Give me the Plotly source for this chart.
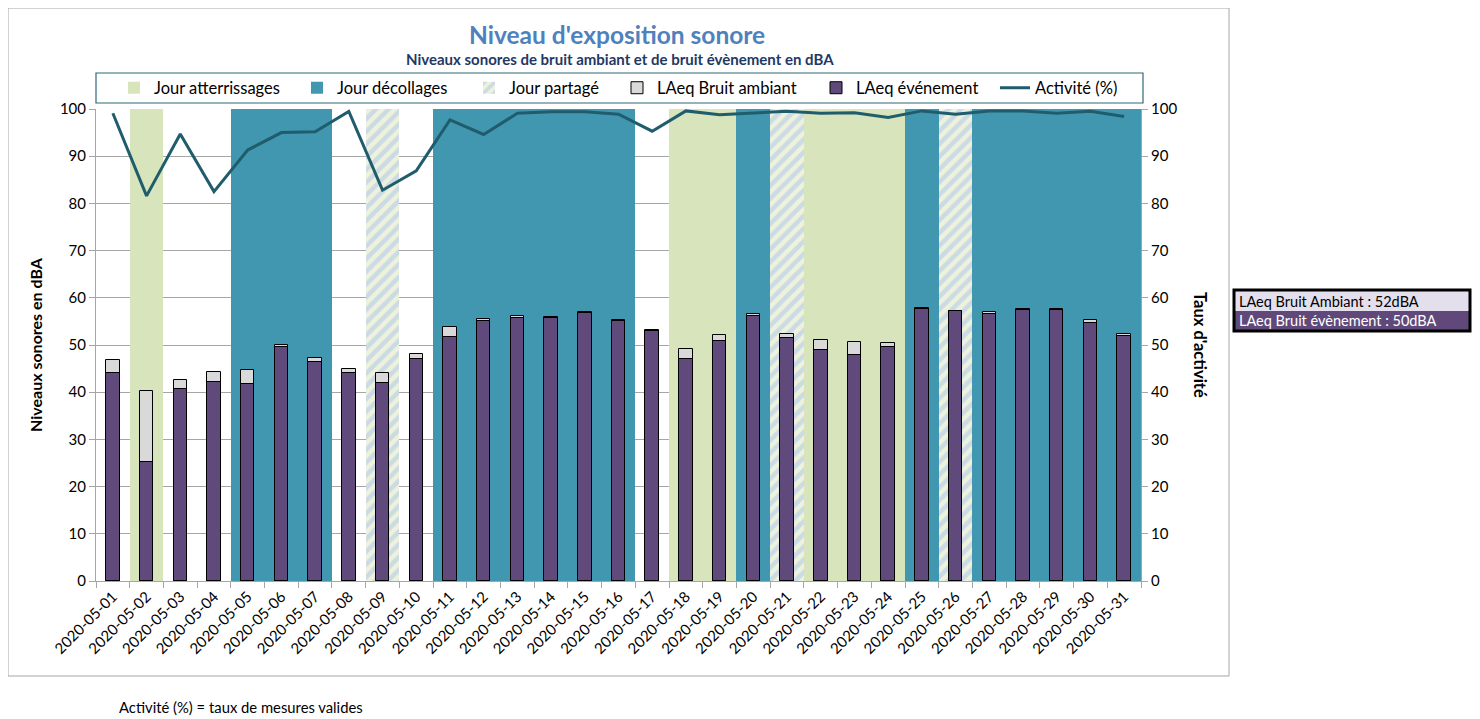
import plotly.graph_objects as go

# ---------------- data ----------------
dates = ["2020-05-01", "2020-05-02", "2020-05-03", "2020-05-04", "2020-05-05", "2020-05-06",
         "2020-05-07", "2020-05-08", "2020-05-09", "2020-05-10", "2020-05-11", "2020-05-12",
         "2020-05-13", "2020-05-14", "2020-05-15", "2020-05-16", "2020-05-17", "2020-05-18",
         "2020-05-19", "2020-05-20", "2020-05-21", "2020-05-22", "2020-05-23", "2020-05-24",
         "2020-05-25", "2020-05-26", "2020-05-27", "2020-05-28", "2020-05-29", "2020-05-30",
         "2020-05-31"]

# N = none, A = atterrissages, D = décollages, P = partagé
day_type = ["N", "A", "N", "N", "D", "D", "D", "N", "P", "N", "D", "D", "D", "D", "D", "D",
            "N", "A", "A", "D", "P", "A", "A", "A", "D", "P", "D", "D", "D", "D", "D"]

laeq_ambiant = [46.8, 40.2, 42.6, 44.2, 44.8, 49.9, 47.3, 44.9, 44.0, 48.2, 53.9, 55.6, 56.2,
                56.0, 56.9, 55.4, 53.2, 49.1, 52.1, 56.5, 52.3, 51.1, 50.7, 50.4, 57.9, 57.3,
                56.9, 57.6, 57.6, 55.2, 52.4]
laeq_evenement = [44.0, 25.3, 40.7, 42.2, 41.7, 49.6, 46.3, 44.1, 41.9, 47.0, 51.8, 55.1, 55.7,
                  55.7, 56.7, 55.1, 52.9, 47.1, 50.8, 56.2, 51.5, 48.9, 47.9, 49.5, 57.7, 57.1,
                  56.6, 57.4, 57.4, 54.7, 52.0]
activite = [99.1, 81.6, 94.7, 82.5, 91.3, 95.0, 95.2, 99.5, 82.8, 86.9, 97.7, 94.6, 99.1, 99.4,
            99.4, 98.9, 95.3, 99.6, 98.8, 99.2, 99.5, 99.1, 99.2, 98.2, 99.6, 98.9, 99.6, 99.6,
            99.1, 99.5, 98.4]

band_top = 100
moyenne_ambiant = 52
moyenne_evenement = 50

# ---------------- layout helpers ----------------
OFF = 8                      # page body margin
W, H = 1480 - 2 * OFF, 719 - OFF
L, R, T, B = 96, 1141, 109, 581   # plot area in page pixels
FONT = "Lato"


def px(x):
    return (x - L) / (R - L)


def py(y):
    return (B - y) / (B - T)


def band(code):
    return [band_top if t == code else None for t in day_type]


fig = go.Figure()

fig.add_trace(go.Bar(x=dates, y=band("A"), name="Jour atterrissages", width=1, legend="legend",
                     marker=dict(color="#d8e4bc", line=dict(width=0))))
fig.add_trace(go.Bar(x=dates, y=band("D"), name="Jour décollages", width=1, legend="legend2",
                     marker=dict(color="#4297b0", line=dict(width=0))))
fig.add_trace(go.Bar(x=dates, y=band("P"), name="Jour partagé", width=1, legend="legend3",
                     marker=dict(color="#eef2dc", line=dict(width=0),
                                 pattern=dict(shape="/", bgcolor="#eef2dc", fgcolor="#a8c3ec",
                                              size=9, solidity=0.5, fillmode="overlay"))))
fig.add_trace(go.Bar(x=dates, y=laeq_ambiant, name="LAeq Bruit ambiant", width=0.4,
                     legend="legend4",
                     marker=dict(color="#d9d9d9", line=dict(color="#000000", width=1))))
fig.add_trace(go.Bar(x=dates, y=laeq_evenement, name="LAeq événement", width=0.4,
                     legend="legend5",
                     marker=dict(color="#604a7b", line=dict(color="#000000", width=1))))
fig.add_trace(go.Scatter(x=dates, y=activite, name="Activité (%)", mode="lines", yaxis="y2",
                         legend="legend6", line=dict(color="#1f5d6d", width=3)))


def leg(text_start):
    return dict(orientation="h", x=px(text_start - 42), xanchor="left", y=py(88),
                yanchor="middle", bgcolor="rgba(0,0,0,0)", borderwidth=0,
                font=dict(size=16.5, family=FONT))


fig.update_layout(
    width=W, height=H,
    margin=dict(l=L - OFF, r=W - (R - OFF), t=T - OFF, b=H - (B - OFF)),
    paper_bgcolor="white", plot_bgcolor="white",
    barmode="overlay", bargap=0,
    font=dict(family=FONT, size=15, color="#000000"),
    showlegend=True,
    legend=leg(156), legend2=leg(339), legend3=leg(511),
    legend4=leg(659), legend5=leg(858), legend6=leg(1037),
    xaxis=dict(type="category", range=[-0.5, 30.5], tickangle=-45, ticks="outside",
               tickson="boundaries", ticklen=6, tickcolor="#a6a6a6", showline=True,
               linecolor="#a6a6a6", linewidth=1, showgrid=False,
               tickfont=dict(size=15, family=FONT)),
    yaxis=dict(range=[0, 100], dtick=10, ticks="outside", ticklen=6, tickcolor="#a6a6a6",
               showline=True, linecolor="#a6a6a6", gridcolor="#a6a6a6", gridwidth=1,
               zeroline=False, tickfont=dict(size=15, family=FONT)),
    yaxis2=dict(range=[0, 100], dtick=10, overlaying="y", side="right", ticks="outside",
                ticklen=6, tickcolor="#a6a6a6", showline=True, linecolor="#a6a6a6",
                showgrid=False, zeroline=False, tickfont=dict(size=15, family=FONT)),
)

shapes = [
    # outer chart border
    dict(type="rect", xref="paper", yref="paper", x0=px(8), x1=px(1229), y0=py(676), y1=py(8),
         line=dict(color="#a6a6a6", width=1), fillcolor="rgba(0,0,0,0)", layer="below"),
    # legend box
    dict(type="rect", xref="paper", yref="paper", x0=px(96), x1=px(1143), y0=py(103), y1=py(73),
         line=dict(color="#2e6878", width=1.2), fillcolor="rgba(0,0,0,0)"),
    # side summary box
    dict(type="rect", xref="paper", yref="paper", x0=px(1235), x1=px(1469), y0=py(311), y1=py(291),
         line=dict(width=0), fillcolor="#e4dfec"),
    dict(type="rect", xref="paper", yref="paper", x0=px(1235), x1=px(1469), y0=py(330), y1=py(311),
         line=dict(width=0), fillcolor="#60497a"),
    dict(type="rect", xref="paper", yref="paper", x0=px(1234), x1=px(1470), y0=py(331), y1=py(290),
         line=dict(color="#000000", width=3), fillcolor="rgba(0,0,0,0)"),
]
fig.update_layout(shapes=shapes)

annotations = [
    dict(text="<b>Niveau d'exposition sonore</b>", x=px(617), y=py(35), xref="paper", yref="paper",
         showarrow=False, xanchor="center", yanchor="middle",
         font=dict(size=24.5, color="#4f81bd", family=FONT)),
    dict(text="<b>Niveaux sonores de bruit ambiant et de bruit évènement en dBA</b>",
         x=px(620), y=py(59), xref="paper", yref="paper", showarrow=False,
         xanchor="center", yanchor="middle", font=dict(size=15, color="#1f3864", family=FONT)),
    dict(text="<b>Niveaux sonores en dBA</b>", x=px(35), y=py(345), xref="paper", yref="paper",
         showarrow=False, textangle=-90, xanchor="center", yanchor="middle",
         font=dict(size=16, family=FONT)),
    dict(text="<b>Taux d'activité</b>", x=px(1200), y=py(345), xref="paper", yref="paper",
         showarrow=False, textangle=90, xanchor="center", yanchor="middle",
         font=dict(size=16.5, family=FONT)),
    dict(text=f"LAeq Bruit Ambiant : {moyenne_ambiant}dBA", x=px(1237), y=py(301), xref="paper",
         yref="paper", showarrow=False, xanchor="left", yanchor="middle",
         font=dict(size=14.5, color="#000000", family=FONT)),
    dict(text=f"LAeq Bruit évènement : {moyenne_evenement}dBA", x=px(1237), y=py(320),
         xref="paper", yref="paper", showarrow=False, xanchor="left", yanchor="middle",
         font=dict(size=14.5, color="#ffffff", family=FONT)),
    dict(text="Activité (%) = taux de mesures valides", x=px(117), y=py(707), xref="paper",
         yref="paper", showarrow=False, xanchor="left", yanchor="middle",
         font=dict(size=14.8, color="#000000", family=FONT)),
]
fig.update_layout(annotations=annotations)

fig.write_html("out.html")
